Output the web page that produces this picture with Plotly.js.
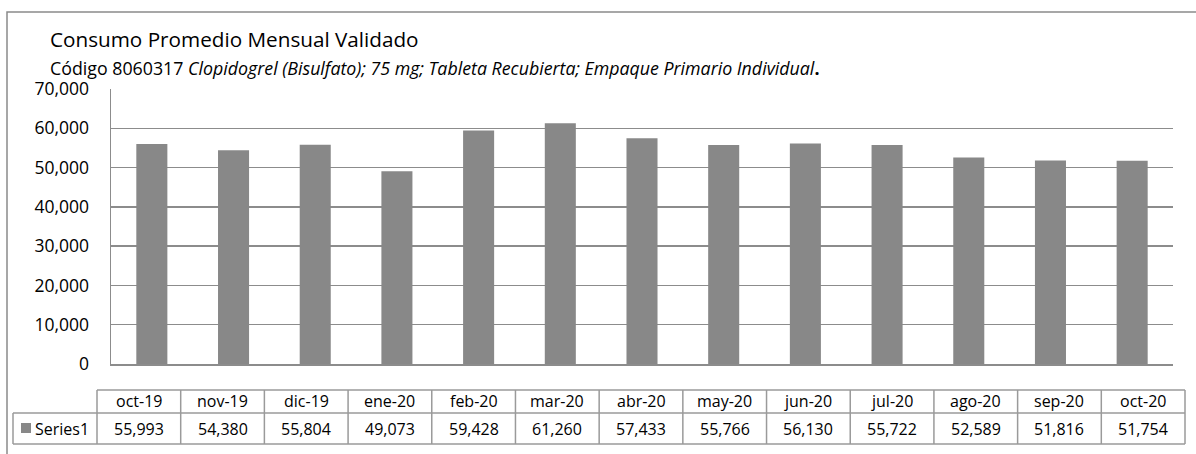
<!DOCTYPE html>
<html>
<head>
<meta charset="utf-8">
<script src="https://cdn.plot.ly/plotly-3.0.1.min.js"></script>
<style>html,body{margin:0;padding:0;background:#fff;}#chart{width:1196px;height:454px;}</style>
</head>
<body>
<div id="chart"></div>
<script>
const categories = ["oct-19","nov-19","dic-19","ene-20","feb-20","mar-20","abr-20","may-20","jun-20","jul-20","ago-20","sep-20","oct-20"];
const values = [55993, 54380, 55804, 49073, 59428, 61260, 57433, 55766, 56130, 55722, 52589, 51816, 51754];
const seriesName = "Series1";
const titleText = "Consumo Promedio Mensual Validado";
const subtitleText = "Código 8060317 <i>Clopidogrel (Bisulfato); 75 mg; Tableta Recubierta; Empaque Primario Individual</i><b>.</b>";

const W = 1196, H = 454;
const L = 111, R = 1173, T = 89, B = 364;
const FONT = "'Open Sans', 'Noto Sans', sans-serif";
const barColor = "#888888";
const lineColor = "#8c8c8c";

const X = px => (px - L) / (R - L);
const Y = py => (B - py) / (B - T);

const shapes = [];
const annotations = [];

// outer border
shapes.push({type:'rect', xref:'paper', yref:'paper', x0:X(7), x1:X(1210), y0:Y(12), y1:Y(470), line:{color:'#8a8a8a', width:1.5}, layer:'below'});

// table geometry
const tL = 97, tR = 1185, tLab = 13, tTop = 390, tMid = 413, tBot = 444;
const cw = (tR - tL) / categories.length;
const tl = {color:'#9a9a9a', width:1.5};
shapes.push({type:'line', xref:'paper', yref:'paper', x0:X(tL), x1:X(tR), y0:Y(tTop), y1:Y(tTop), line:tl});
shapes.push({type:'line', xref:'paper', yref:'paper', x0:X(tLab), x1:X(tR), y0:Y(tMid), y1:Y(tMid), line:tl});
shapes.push({type:'line', xref:'paper', yref:'paper', x0:X(tLab), x1:X(tR), y0:Y(tBot), y1:Y(tBot), line:tl});
shapes.push({type:'line', xref:'paper', yref:'paper', x0:X(tLab), x1:X(tLab), y0:Y(tMid), y1:Y(tBot), line:tl});
for (let j = 0; j <= categories.length; j++) {
  const xx = tL + j * cw;
  shapes.push({type:'line', xref:'paper', yref:'paper', x0:X(xx), x1:X(xx), y0:Y(tTop), y1:Y(tBot), line:tl});
}
categories.forEach((c, j) => {
  const cx = tL + (j + 0.5) * cw;
  annotations.push({xref:'paper', yref:'paper', x:X(cx), y:Y((tTop + tMid) / 2), text:c, showarrow:false, xanchor:'center', yanchor:'middle', font:{family:FONT, size:16, color:'#000'}});
  annotations.push({xref:'paper', yref:'paper', x:X(cx), y:Y((tMid + tBot) / 2), text:values[j].toLocaleString('en-US'), showarrow:false, xanchor:'center', yanchor:'middle', font:{family:FONT, size:16, color:'#000'}});
});
// legend key + series name
shapes.push({type:'rect', xref:'paper', yref:'paper', x0:X(21), x1:X(31), y0:Y(423), y1:Y(433), fillcolor:barColor, line:{width:0}});
annotations.push({xref:'paper', yref:'paper', x:X(33), y:Y((tMid + tBot) / 2), text:seriesName, showarrow:false, xanchor:'left', yanchor:'middle', font:{family:FONT, size:16, color:'#000'}});

// titles
annotations.push({xref:'paper', yref:'paper', x:X(48), y:Y(39), text:titleText, showarrow:false, xanchor:'left', yanchor:'middle', font:{family:FONT, size:20.7, color:'#000'}});
annotations.push({xref:'paper', yref:'paper', x:X(48), y:Y(68), text:subtitleText, showarrow:false, xanchor:'left', yanchor:'middle', font:{family:FONT, size:17.8, color:'#000'}});

const trace = {
  type:'bar', x:categories, y:values, name:seriesName,
  marker:{color:barColor, line:{width:0}},
  hoverinfo:'x+y'
};

const layout = {
  width:W, height:H,
  margin:{l:L, r:W - R, t:T, b:H - B, pad:0},
  paper_bgcolor:'#fff', plot_bgcolor:'#fff',
  showlegend:false,
  bargap:0.62,
  font:{family:FONT, size:17, color:'#000'},
  xaxis:{showticklabels:false, showgrid:false, zeroline:false, showline:true, linecolor:lineColor, linewidth:1.5, ticks:'', fixedrange:true},
  yaxis:{range:[0,70000], dtick:10000, tickformat:',d', showgrid:true, gridcolor:lineColor, gridwidth:1.5, zeroline:false, showline:true, linecolor:lineColor, linewidth:1.5, ticks:'outside', ticklen:17, tickcolor:'rgba(0,0,0,0)', tickfont:{family:FONT, size:17.5, color:'#000'}, fixedrange:true},
  shapes:shapes,
  annotations:annotations
};

Plotly.newPlot('chart', [trace], layout, {displayModeBar:false, staticPlot:true});
</script>
</body>
</html>
